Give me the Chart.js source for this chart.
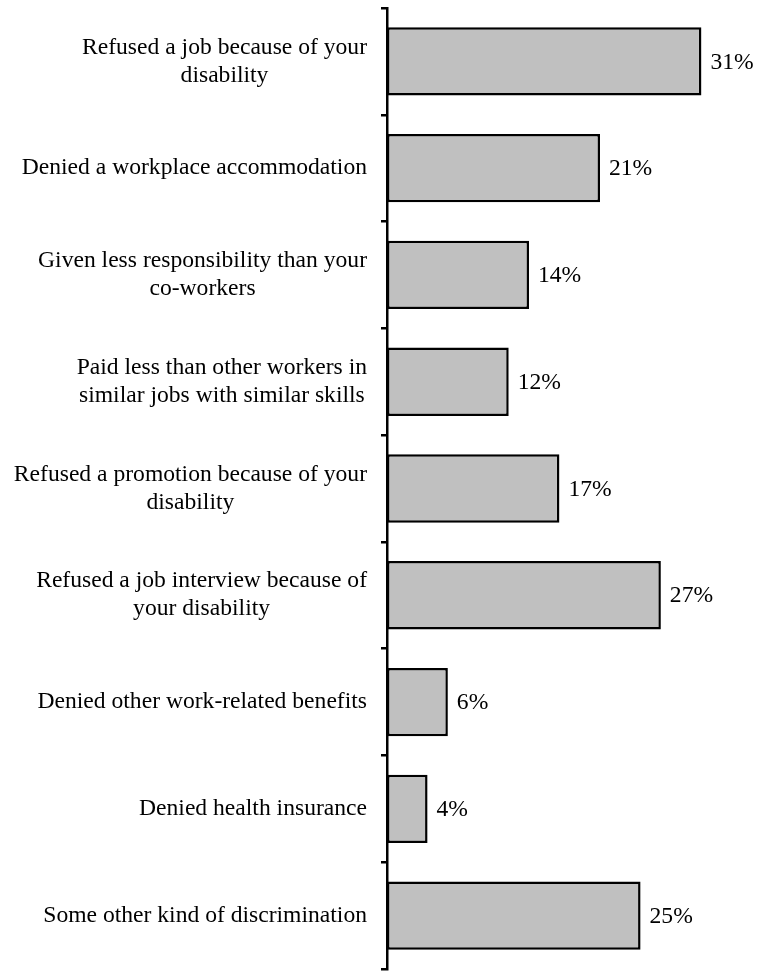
<html>
<head>
<meta charset="utf-8">
<title>discrimination</title>
<script src="https://cdn.jsdelivr.net/npm/chart.js@4/dist/chart.umd.min.js"></script>
<style>
	body { margin: 0; background: #fff; }
	#wrap { position: relative; width: 766px; height: 971px; }
</style>
</head>
<body>

	<div id="wrap">
		<canvas id="canvas"></canvas>
	</div>

	<script>
		// categories, top to bottom (each entry is the lines of the label)
		var categories = [
			["Refused a job because of your", "disability"],
			["Denied a workplace accommodation"],
			["Given less responsibility than your", "co-workers"],
			["Paid less than other workers in", "similar jobs with similar skills"],
			["Refused a promotion because of your", "disability"],
			["Refused a job interview because of", "your disability"],
			["Denied other work-related benefits"],
			["Denied health insurance"],
			["Some other kind of discrimination"]
		];
		var percents = [31, 21, 14, 12, 17, 27, 6, 4, 25];

		var serif = "'Liberation Serif', 'Times New Roman', serif";
		var fontSize = 23.6;
		var lineHeight = 28;
		var labelRight = 367;

		// category text: right-aligned block, lines centred inside it
		var categoryLabels = {
			id: 'categoryLabels',
			afterDraw: function (chart) {
				var ctx = chart.ctx;
				var yScale = chart.scales.y;
				ctx.save();
				ctx.font = fontSize + "px " + serif;
				ctx.fillStyle = "#000";
				ctx.textAlign = "center";
				ctx.textBaseline = "middle";
				categories.forEach(function (lines, i) {
					var w = 0;
					lines.forEach(function (l) { w = Math.max(w, ctx.measureText(l).width); });
					var cx = labelRight - w / 2;
					var cy = yScale.getPixelForTick(i);
					var top = cy - (lines.length - 1) * lineHeight / 2;
					lines.forEach(function (l, j) {
						ctx.fillText(l, cx, top + j * lineHeight);
					});
				});
				ctx.restore();
			}
		};

		// percentage next to the end of each bar
		var valueLabels = {
			id: 'valueLabels',
			afterDatasetsDraw: function (chart) {
				var ctx = chart.ctx;
				var meta = chart.getDatasetMeta(0);
				ctx.save();
				ctx.font = fontSize + "px " + serif;
				ctx.fillStyle = "#000";
				ctx.textAlign = "left";
				ctx.textBaseline = "middle";
				meta.data.forEach(function (bar, i) {
					ctx.fillText(percents[i] + "%", bar.x + 9, bar.y + 1);
				});
				ctx.restore();
			}
		};

		var chart1 = new Chart(document.getElementById('canvas'), {
			type: 'bar',
			data: {
				labels: categories,
				datasets: [{
					data: percents,
					backgroundColor: "#c0c0c0",
					borderColor: "#000",
					borderWidth: 2.5,
					borderSkipped: false,
					barPercentage: 0.64,
					categoryPercentage: 1
				}]
			},
			options: {
				indexAxis: 'y',
				responsive: true,
				maintainAspectRatio: false,
				animation: false,
				layout: { padding: { top: 8, bottom: 2, left: 0, right: 24 } },
				plugins: {
					legend: { display: false },
					tooltip: { enabled: false }
				},
				scales: {
					x: {
						display: false,
						min: 0,
						max: 35
					},
					y: {
						ticks: { display: false },
						grid: {
							offset: true,
							drawOnChartArea: false,
							drawTicks: true,
							tickLength: 6,
							lineWidth: 2.5,
							color: "#000"
						},
						border: { display: true, width: 2.5, color: "#000" },
						afterFit: function (scale) { scale.width = 387; }
					}
				}
			},
			plugins: [categoryLabels, valueLabels]
		});
	</script>

</body>
</html>
